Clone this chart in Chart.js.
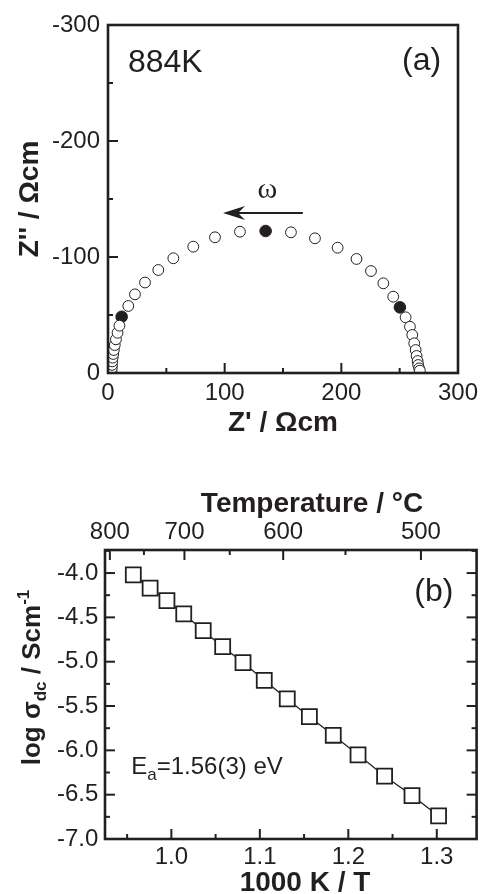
<!DOCTYPE html>
<html><head><meta charset="utf-8">
<script src="https://cdn.jsdelivr.net/npm/chart.js@4.4.1/dist/chart.umd.min.js"></script>
<style>
html,body{margin:0;padding:0;background:#fff;width:489px;height:894px;overflow:hidden}
#wa{position:absolute;left:0;top:0;width:489px;height:450px}
#wb{position:absolute;left:0;top:450px;width:489px;height:444px}
</style></head><body>
<div id="wa"><canvas id="ca"></canvas></div>
<div id="wb"><canvas id="cb"></canvas></div>
<script>
// ---------- panel (a): impedance at 884 K ----------
const sampleLabel = '884K';
const zReal = [3.0, 3.2, 3.4, 3.6, 4.0, 4.5, 5.0, 5.8, 6.8, 8.2, 9.8, 17.4, 23.1, 31.7, 43.1, 56.0, 73.1, 91.7, 113.1,
               156.8, 177.4, 196.8, 213.0, 225.4, 236.0, 244.5, 255.1, 258.8, 260.8, 262.5, 263.7, 264.5, 265.4, 265.9, 266.7, 267.3];
const zImag = [-1.5, -4, -7, -10, -13.2, -16.4, -19.8, -24.1, -29, -34.7, -40.8, -57.8, -67.8, -78, -88.8, -98.9, -108.9, -117, -121.8,
               -121.3, -116.1, -108, -98.3, -87.9, -77.3, -65.8, -48, -39.9, -32.8, -25.6, -19.8, -14.7, -10.3, -6.9, -4, -2];
const zRealMarked = [11.7, 135.1, 250.2];
const zImagMarked = [-48.5, -122.4, -56.6];
const zRealTicks = [0, 100, 200, 300];
const zRealMinor = [50, 150, 250];
const zImagTicks = [-300, -200, -100, 0];
const zImagMinor = [-250, -150, -50];

// ---------- panel (b): Arrhenius plot ----------
const invT = [0.957, 0.976, 0.995, 1.014, 1.036, 1.058, 1.081, 1.105, 1.131, 1.156, 1.183, 1.211, 1.241, 1.272, 1.302];
const logSigma = [-4.02, -4.17, -4.31, -4.46, -4.65, -4.83, -5.01, -5.21, -5.42, -5.62, -5.83, -6.05, -6.29, -6.51, -6.74];
const invTTicks = [1.0, 1.1, 1.2, 1.3];
const invTMinor = [0.95, 1.05, 1.15, 1.25];
const sigmaTicks = [-7.0, -6.5, -6.0, -5.5, -5.0, -4.5, -4.0];
const sigmaMinor = [-6.75, -6.25, -5.75, -5.25, -4.75, -4.25, -3.75];
const tempLabels = ['800', '700', '600', '500'];
const tempTickPos = [0.9305, 1.0148, 1.1264, 1.2821];
const tempMinorPos = [0.969, 1.066, 1.1968];
const eaValue = '1.56(3) eV';
const topTitle = 'Temperature / °C';
const bottomTitle = '1000 K / T';

const INK = '#231f20';
const FONT = "'Liberation Sans', Arial, Helvetica, sans-serif";
Chart.defaults.font.family = FONT;
Chart.defaults.color = INK;

function setTicks(arr) { return s => { s.ticks = arr.map(v => ({ value: v })); }; }

const frame = {
  id: 'frame',
  afterDatasetsDraw(chart, args, o) {
    const { ctx, chartArea: a } = chart;
    ctx.save();
    ctx.strokeStyle = INK;
    ctx.lineWidth = 2;
    for (const m of o.marks) {
      const s = chart.scales[m.scale];
      for (const [vals, len] of [[m.major, 10], [m.minor, 5]]) {
        for (const v of vals) {
          const p = s.getPixelForValue(v);
          ctx.beginPath();
          if (m.side === 'left') { ctx.moveTo(a.left, p); ctx.lineTo(a.left + len, p); }
          if (m.side === 'right') { ctx.moveTo(a.right, p); ctx.lineTo(a.right - len, p); }
          if (m.side === 'bottom') { ctx.moveTo(p, a.bottom); ctx.lineTo(p, a.bottom - len); }
          if (m.side === 'top') { ctx.moveTo(p, a.top); ctx.lineTo(p, a.top + len); }
          ctx.stroke();
        }
      }
    }
    ctx.lineWidth = 2.6;
    ctx.strokeRect(a.left, a.top, a.right - a.left, a.bottom - a.top);
    ctx.restore();
  }
};

const notesA = {
  id: 'notesA',
  afterDraw(chart) {
    const { ctx, scales: { x, y } } = chart;
    ctx.save();
    ctx.fillStyle = INK; ctx.strokeStyle = INK;
    ctx.textBaseline = 'alphabetic'; ctx.textAlign = 'left';
    ctx.font = `32px ${FONT}`;
    ctx.fillText(sampleLabel, x.getPixelForValue(17.1), y.getPixelForValue(-259.7));
    ctx.fillText('(a)', x.getPixelForValue(252), y.getPixelForValue(-261));
    ctx.font = `30px 'Liberation Serif', 'Times New Roman', serif`;
    ctx.textAlign = 'center';
    ctx.fillText('ω', x.getPixelForValue(136.7), y.getPixelForValue(-150.9));
    const x0 = x.getPixelForValue(167), x1 = x.getPixelForValue(98.6), yy = y.getPixelForValue(-137.9);
    ctx.lineWidth = 2;
    ctx.beginPath(); ctx.moveTo(x0, yy); ctx.lineTo(x1 + 8, yy); ctx.stroke();
    ctx.beginPath(); ctx.moveTo(x1, yy); ctx.lineTo(x1 + 22, yy - 7); ctx.lineTo(x1 + 15, yy);
    ctx.lineTo(x1 + 22, yy + 7); ctx.closePath(); ctx.fill();
    ctx.restore();
  }
};

const notesB = {
  id: 'notesB',
  afterDraw(chart) {
    const { ctx, scales: { x, y } } = chart;
    const a = chart.chartArea;
    ctx.save();
    ctx.fillStyle = INK;
    ctx.textBaseline = 'alphabetic'; ctx.textAlign = 'left';
    ctx.font = `32px ${FONT}`;
    ctx.fillText('(b)', x.getPixelForValue(1.2745), y.getPixelForValue(-4.32));
    // E_a label
    let px = x.getPixelForValue(0.9547), py = y.getPixelForValue(-6.272);
    ctx.font = `24px ${FONT}`;
    ctx.fillText('E', px, py); px += ctx.measureText('E').width;
    ctx.font = `17px ${FONT}`;
    ctx.fillText('a', px, py + 6); px += ctx.measureText('a').width;
    ctx.font = `24px ${FONT}`;
    ctx.fillText('=' + eaValue, px, py);
    // axis titles (bold), centred slightly right of the plot centre as in the figure
    ctx.font = `bold 28px ${FONT}`;
    ctx.textAlign = 'center';
    ctx.fillText(topTitle, 312, 62);
    ctx.fillText(bottomTitle, 305, 441);
    // rotated y title: log σ_dc / Scm^-1
    ctx.textAlign = 'left';
    const parts = [
      { t: 'log ', f: `bold 26px ${FONT}`, dy: 0 },
      { t: 'σ', f: `bold 26px ${FONT}`, dy: 0 },
      { t: 'dc', f: `bold 17px ${FONT}`, dy: 6 },
      { t: ' / Scm', f: `bold 26px ${FONT}`, dy: 0 },
      { t: '-1', f: `bold 17px ${FONT}`, dy: -11 }
    ];
    let total = 0;
    for (const p of parts) { ctx.font = p.f; p.w = ctx.measureText(p.t).width; total += p.w; }
    const cy = (a.top + a.bottom) / 2 - 17;
    ctx.translate(40, cy);
    ctx.rotate(-Math.PI / 2);
    let u = -total / 2;
    for (const p of parts) { ctx.font = p.f; ctx.fillText(p.t, u, p.dy); u += p.w; }
    ctx.restore();
  }
};

const common = {
  responsive: true, maintainAspectRatio: false, animation: false, devicePixelRatio: 1,
};

new Chart(document.getElementById('ca'), {
  type: 'scatter',
  data: {
    datasets: [
      { data: zReal.map((v, i) => ({ x: v, y: zImag[i] })), pointStyle: 'circle', pointRadius: 5.4,
        pointBorderWidth: 1, pointBorderColor: INK, pointBackgroundColor: '#fff', showLine: false },
      { data: zRealMarked.map((v, i) => ({ x: v, y: zImagMarked[i] })), pointStyle: 'circle', pointRadius: 5.8,
        pointBorderWidth: 1, pointBorderColor: INK, pointBackgroundColor: INK, showLine: false }
    ]
  },
  options: {
    ...common,
    layout: { padding: { top: 25, right: 31, left: 0, bottom: 0 } },
    plugins: {
      legend: { display: false }, tooltip: { enabled: false },
      frame: { marks: [
        { scale: 'x', side: 'bottom', major: zRealTicks, minor: zRealMinor },
        { scale: 'y', side: 'left', major: zImagTicks, minor: zImagMinor }
      ] }
    },
    scales: {
      x: {
        type: 'linear', min: 0, max: 300,
        afterBuildTicks: setTicks(zRealTicks), afterFit: s => { s.height = 77; },
        grid: { display: false, drawTicks: false }, border: { display: false },
        ticks: { padding: 5.6, font: { size: 24 }, color: INK, maxRotation: 0, autoSkip: false, callback: v => String(v) },
        title: { display: true, text: "Z' / Ωcm", color: INK, font: { size: 28, weight: 'bold' }, padding: { top: 0, bottom: 10 } }
      },
      y: {
        type: 'linear', min: -300, max: 0, reverse: true,
        afterBuildTicks: setTicks(zImagTicks), afterFit: s => { s.width = 108; },
        grid: { display: false, drawTicks: false }, border: { display: false },
        ticks: { padding: 8, font: { size: 24 }, color: INK, autoSkip: false, callback: v => String(v) },
        title: { display: true, text: "Z'' / Ωcm", color: INK, font: { size: 28, weight: 'bold' }, padding: { top: 13, bottom: 0 } }
      }
    }
  },
  plugins: [frame, notesA]
});

new Chart(document.getElementById('cb'), {
  type: 'scatter',
  data: {
    datasets: [
      { data: invT.map((v, i) => ({ x: v, y: logSigma[i] })), xAxisID: 'x', yAxisID: 'y',
        showLine: true, borderColor: INK, borderWidth: 1.3,
        pointStyle: 'rect', pointRadius: 10.6, pointBorderWidth: 1.8, pointBorderColor: INK, pointBackgroundColor: '#fff' }
    ]
  },
  options: {
    ...common,
    layout: { padding: { top: 0, right: 1, left: 0, bottom: 0 } },
    plugins: {
      legend: { display: false }, tooltip: { enabled: false },
      frame: { marks: [
        { scale: 'x', side: 'bottom', major: invTTicks, minor: invTMinor },
        { scale: 'x2', side: 'top', major: tempTickPos, minor: tempMinorPos },
        { scale: 'y', side: 'left', major: sigmaTicks, minor: sigmaMinor },
        { scale: 'y', side: 'right', major: sigmaTicks, minor: sigmaMinor }
      ] }
    },
    scales: {
      x: {
        type: 'linear', position: 'bottom', min: 0.925, max: 1.345,
        afterBuildTicks: setTicks(invTTicks), afterFit: s => { s.height = 55; },
        grid: { display: false, drawTicks: false }, border: { display: false },
        ticks: { padding: 4.1, font: { size: 24 }, color: INK, maxRotation: 0, autoSkip: false, callback: v => v.toFixed(1) },
        title: { display: false }
      },
      x2: {
        type: 'linear', position: 'top', axis: 'x', min: 0.925, max: 1.345,
        afterBuildTicks: setTicks(tempTickPos), afterFit: s => { s.height = 100; },
        grid: { display: false, drawTicks: false }, border: { display: false },
        ticks: { padding: 3.1, font: { size: 24 }, color: INK, maxRotation: 0, autoSkip: false, callback: (v, i) => tempLabels[i] },
        title: { display: false }
      },
      y: {
        type: 'linear', min: -7.0, max: -3.74,
        afterBuildTicks: setTicks(sigmaTicks), afterFit: s => { s.width = 105; },
        grid: { display: false, drawTicks: false }, border: { display: false },
        ticks: { padding: 6.7, font: { size: 24 }, color: INK, autoSkip: false, callback: v => v.toFixed(1) },
        title: { display: false }
      }
    }
  },
  plugins: [frame, notesB]
});
</script>
</body></html>
